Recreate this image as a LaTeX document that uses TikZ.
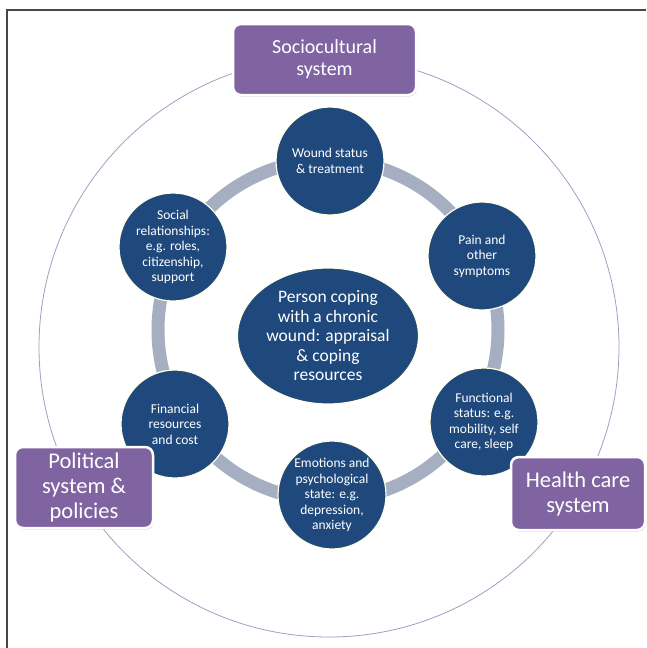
\documentclass[tikz,border=0pt]{standalone}
\usepackage{fontspec}
\setmainfont{Carlito}
\usetikzlibrary{positioning,shapes.geometric,shadows}
\definecolor{woundblue}{RGB}{31,73,125}
\definecolor{sysviolet}{RGB}{128,100,162}
\definecolor{ringgrey}{RGB}{166,174,193}
\definecolor{orbitline}{RGB}{165,155,195}
\definecolor{framegrey}{RGB}{70,70,70}

\begin{document}
\begin{tikzpicture}[x=1pt, y=-1pt,
    every node/.style={align=center, text=white, inner sep=0pt},
    factor/.style={circle, fill=woundblue, draw=white!90!yellow, line width=1.2pt, minimum size=108pt, font=\fontsize{13.5}{15.5}\selectfont},
    sysbox/.style={rectangle, rounded corners=8pt, fill=sysviolet, draw=white, line width=2.5pt,
        drop shadow={shadow xshift=1pt, shadow yshift=-1.5pt, opacity=0.35}}]
    \useasboundingbox (0,0) rectangle (646,648);
    % frame
    \draw[framegrey, line width=1.3pt] (7,648) -- (7,10) -- (646,10);
    % outer orbit
    \draw[orbitline, line width=0.8pt] (329,347) circle (290);
    % inner ring
    \draw[ringgrey, line width=13pt] (328,330) circle (170);
    % centre
    \node[ellipse, fill=woundblue, draw=white!90!yellow, line width=1.2pt, minimum width=181pt, minimum height=136pt,
        font=\fontsize{17.5}{19.5}\selectfont](person) at (328,336) {Person coping\\with a chronic\\wound: appraisal\\\& coping\\resources};
    % factors
    \node[factor](wound) at (330,161) {Wound status\\\& treatment};
    \node[factor](pain) at (482,256) {Pain and\\other\\symptoms};
    \node[factor](func) at (484,422) {Functional\\status: e.g.\\mobility, self\\care, sleep};
    \node[factor](emot) at (332,495) {Emotions and\\psychological\\state: e.g.\\depression,\\anxiety};
    \node[factor](fin) at (175,424) {Financial\\resources\\and cost};
    \node[factor](social) at (173,247) {Social\\relationships:\\e.g. roles,\\citizenship,\\support};
    % systems
    \node[sysbox, minimum width=183pt, minimum height=71pt, font=\fontsize{20}{22}\selectfont](socio) at (324.5,59.5) {Sociocultural\\system};
    \node[sysbox, minimum width=138pt, minimum height=81pt, font=\fontsize{22.5}{25}\selectfont](polit) at (84,487.5) {Political\\system \&\\policies};
    \node[sysbox, minimum width=134pt, minimum height=73pt, font=\fontsize{22.5}{25}\selectfont](health) at (578,493.5) {Health care\\system};
\end{tikzpicture}
\end{document}
